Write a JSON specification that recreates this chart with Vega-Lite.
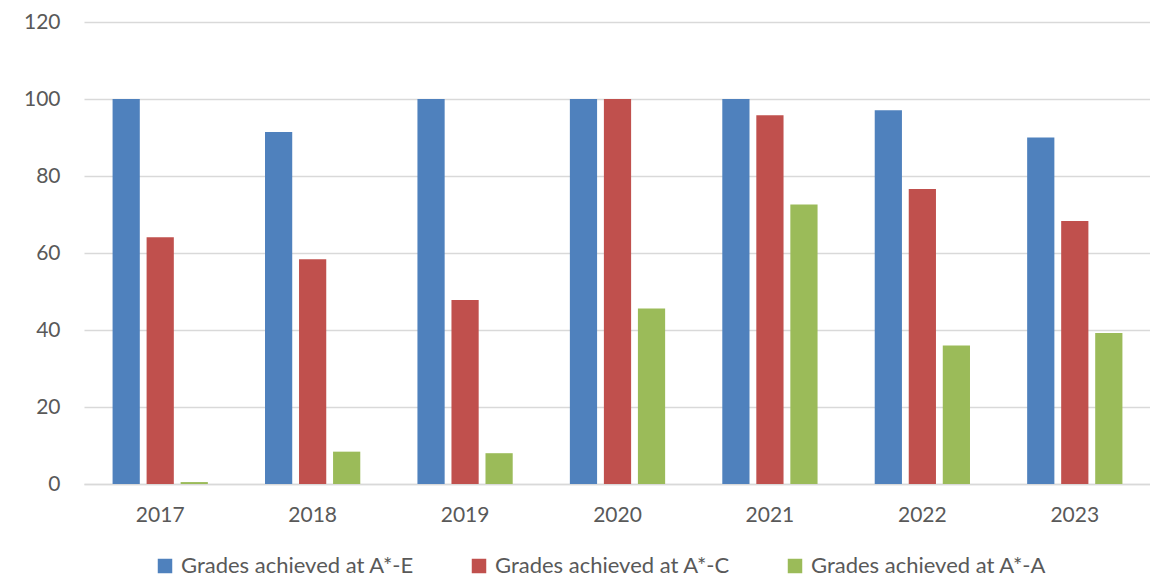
{
  "$schema": "https://vega.github.io/schema/vega-lite/v6.json",
  "width": 1067,
  "height": 462,
  "autosize": "none",
  "padding": {"left": 84, "top": 22, "right": 0, "bottom": 95},
  "background": "white",
  "config": {"view": {"stroke": null}, "font": "Lato"},
  "data": {
    "values": [
      {"year": "2017", "series": "Grades achieved at A*-E", "value": 100},
      {"year": "2017", "series": "Grades achieved at A*-C", "value": 64.1},
      {"year": "2017", "series": "Grades achieved at A*-A", "value": 0.5},
      {"year": "2018", "series": "Grades achieved at A*-E", "value": 91.4},
      {"year": "2018", "series": "Grades achieved at A*-C", "value": 58.4},
      {"year": "2018", "series": "Grades achieved at A*-A", "value": 8.4},
      {"year": "2019", "series": "Grades achieved at A*-E", "value": 100},
      {"year": "2019", "series": "Grades achieved at A*-C", "value": 47.8},
      {"year": "2019", "series": "Grades achieved at A*-A", "value": 8.0},
      {"year": "2020", "series": "Grades achieved at A*-E", "value": 100},
      {"year": "2020", "series": "Grades achieved at A*-C", "value": 100},
      {"year": "2020", "series": "Grades achieved at A*-A", "value": 45.6},
      {"year": "2021", "series": "Grades achieved at A*-E", "value": 100},
      {"year": "2021", "series": "Grades achieved at A*-C", "value": 95.8},
      {"year": "2021", "series": "Grades achieved at A*-A", "value": 72.6},
      {"year": "2022", "series": "Grades achieved at A*-E", "value": 97.1},
      {"year": "2022", "series": "Grades achieved at A*-C", "value": 76.6},
      {"year": "2022", "series": "Grades achieved at A*-A", "value": 36.0},
      {"year": "2023", "series": "Grades achieved at A*-E", "value": 90.0},
      {"year": "2023", "series": "Grades achieved at A*-C", "value": 68.3},
      {"year": "2023", "series": "Grades achieved at A*-A", "value": 39.2}
    ]
  },
  "mark": {"type": "bar"},
  "encoding": {
    "x": {
      "field": "year",
      "type": "nominal",
      "scale": {"paddingInner": 0.375, "paddingOuter": 0.1875},
      "axis": {
        "title": null,
        "labelAngle": 0,
        "labelFontSize": 21,
        "labelColor": "#595959",
        "labelPadding": 20,
        "ticks": false,
        "domain": true,
        "domainColor": "#d9d9d9",
        "domainWidth": 1.5
      }
    },
    "xOffset": {
      "field": "series",
      "type": "nominal",
      "sort": ["Grades achieved at A*-E", "Grades achieved at A*-C", "Grades achieved at A*-A"],
      "scale": {"paddingInner": 0.2, "paddingOuter": 0}
    },
    "y": {
      "field": "value",
      "type": "quantitative",
      "scale": {"domain": [0, 120], "nice": false},
      "axis": {
        "title": null,
        "values": [0, 20, 40, 60, 80, 100, 120],
        "labelFontSize": 21,
        "labelColor": "#595959",
        "labelPadding": 24,
        "ticks": false,
        "domain": false,
        "gridColor": "#d9d9d9",
        "gridWidth": 1.5
      }
    },
    "color": {
      "field": "series",
      "type": "nominal",
      "sort": ["Grades achieved at A*-E", "Grades achieved at A*-C", "Grades achieved at A*-A"],
      "scale": {
        "domain": ["Grades achieved at A*-E", "Grades achieved at A*-C", "Grades achieved at A*-A"],
        "range": ["#4f81bd", "#c0504d", "#9bbb59"]
      },
      "legend": {
        "title": null,
        "orient": "none",
        "direction": "horizontal",
        "legendX": 70,
        "legendY": 533,
        "symbolType": "square",
        "symbolSize": 210,
        "symbolStrokeWidth": 0,
        "labelFontSize": 22,
        "labelColor": "#595959",
        "labelOffset": 5,
        "columnPadding": 54,
        "labelLimit": 400
      }
    }
  }
}
